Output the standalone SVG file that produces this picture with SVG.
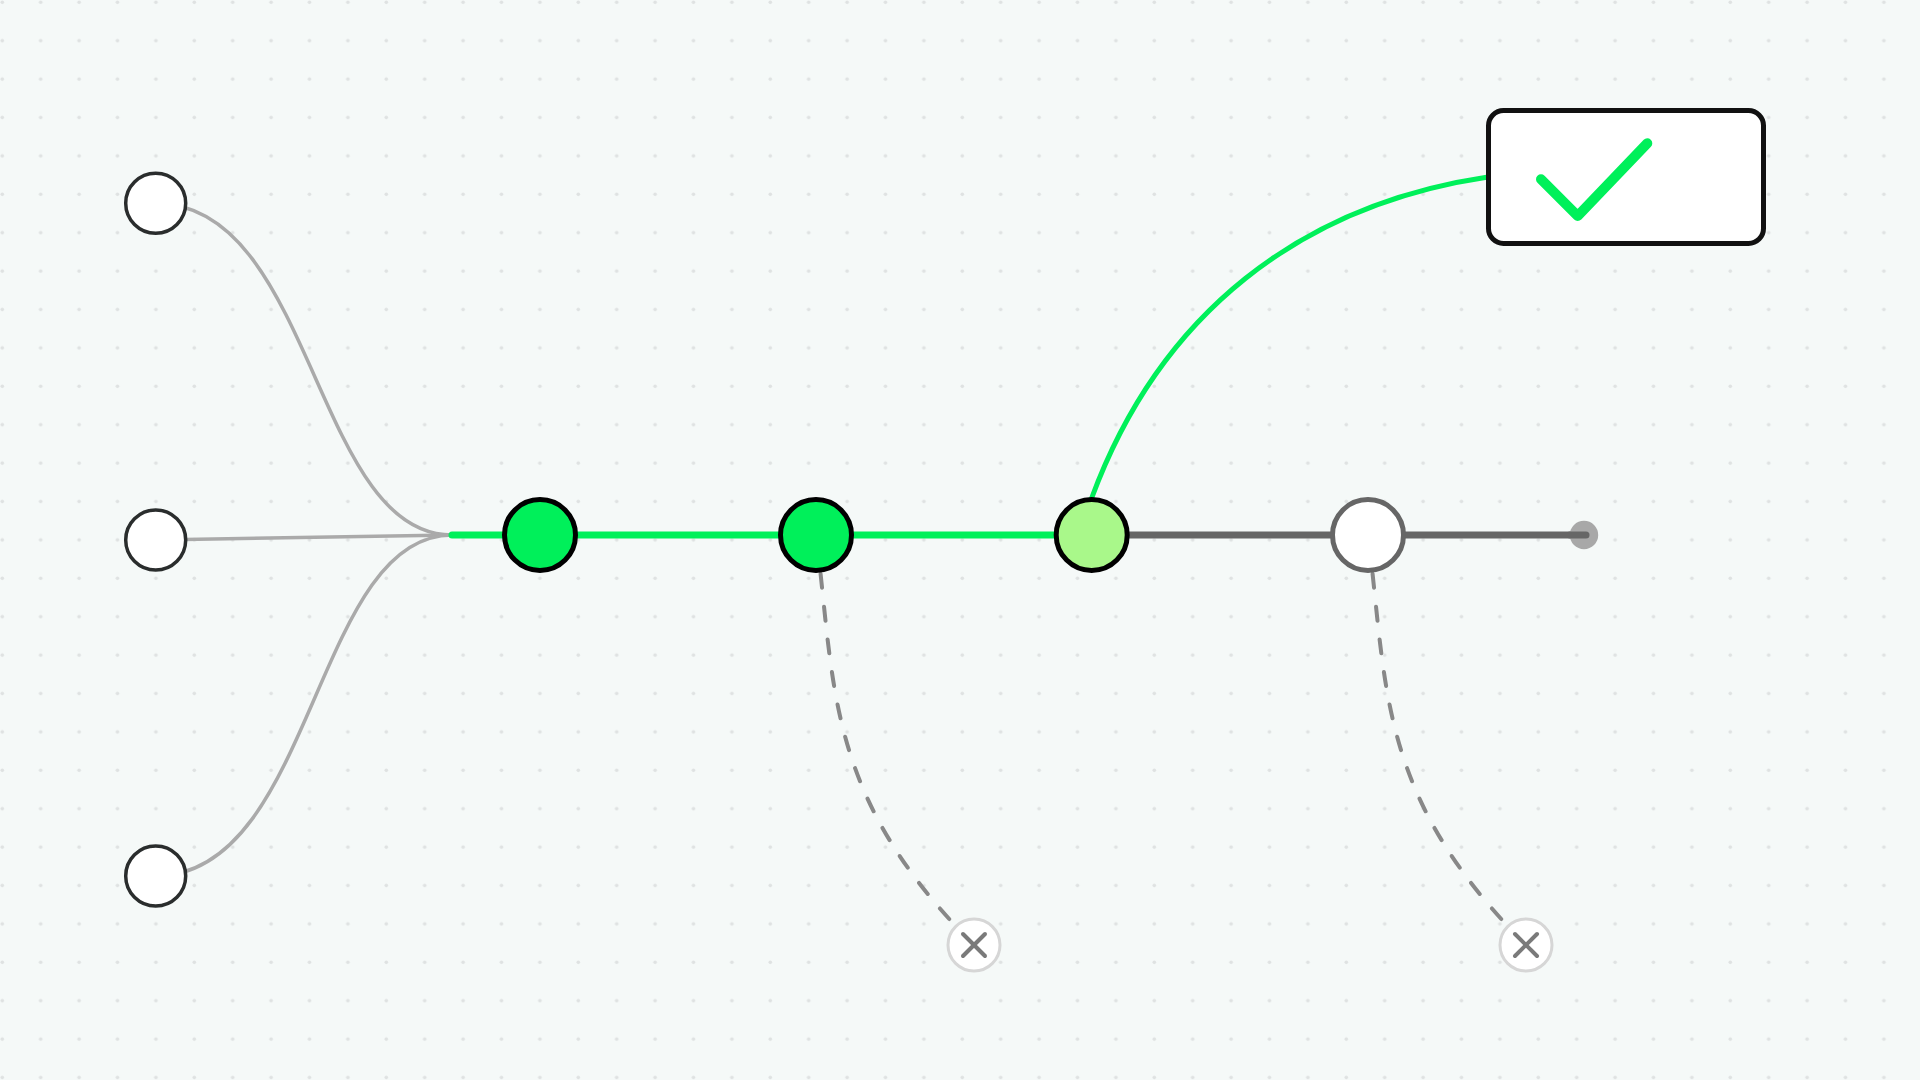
<svg xmlns="http://www.w3.org/2000/svg" width="1920" height="1080" viewBox="0 0 1920 1080">
  <defs>
    <pattern id="dots" width="38.4" height="38.4" patternUnits="userSpaceOnUse">
      <circle cx="2.3" cy="2.3" r="1.8" fill="#dfe2e2"/>
    </pattern>
    <style>
      .in { fill: none; stroke: #aaaaaa; stroke-width: 3.5; stroke-linecap: round; }
      .green { fill: none; stroke: #00f05a; stroke-linecap: round; }
      .gray { fill: none; stroke: #666666; stroke-width: 7; stroke-linecap: round; }
      .dash { fill: none; stroke: #888888; stroke-width: 4; stroke-linecap: round; stroke-dasharray: 14 19; stroke-dashoffset: -6; }
      .src { fill: #ffffff; stroke: #2a2d2d; stroke-width: 3.5; }
      .main { stroke-width: 5; }
      .xnode { fill: #ffffff; stroke: #d6d6d6; stroke-width: 3; }
      .xmark { stroke: #7a7a7a; stroke-width: 4; stroke-linecap: round; }
    </style>
  </defs>
  <rect width="1920" height="1080" fill="#f5f9f8"/>
  <rect width="1920" height="1080" fill="url(#dots)"/>

  <g id="connectors">
    <path class="in" d="M155.7,203.3 C314,203.3 314,535 452,535"/>
    <path class="in" d="M155.7,540 L452,535"/>
    <path class="in" d="M155.7,876 C314,876 314,535 452,535"/>
    <path class="green" stroke-width="7" d="M452,535 L1091.7,535"/>
    <path class="gray" d="M1091.7,535 L1586,535"/>
    <path class="green" stroke-width="5" d="M1091.7,498 C1160,313 1301,204.75 1488,177"/>
    <path class="dash" d="M816,535 C835.5,685 824,795 974,945"/>
    <path class="dash" d="M1368,535 C1387.5,685 1376,795 1526,945"/>
  </g>

  <g id="src1"><circle class="src" cx="155.7" cy="203.3" r="30"/></g>
  <g id="src2"><circle class="src" cx="155.7" cy="540" r="30"/></g>
  <g id="src3"><circle class="src" cx="155.7" cy="876" r="30"/></g>

  <g id="step1"><circle class="main" cx="540" cy="535" r="35.5" fill="#00f05a" stroke="#000000"/></g>
  <g id="step2"><circle class="main" cx="816" cy="535" r="35.5" fill="#00f05a" stroke="#000000"/></g>
  <g id="step3"><circle class="main" cx="1091.7" cy="535" r="35.5" fill="#a9f88a" stroke="#000000"/></g>
  <g id="step4"><circle class="main" cx="1368" cy="535" r="35.5" fill="#ffffff" stroke="#666666"/></g>
  <g id="end"><circle cx="1584" cy="535" r="14.2" fill="#a8a8a8"/><line x1="1570" y1="535" x2="1586" y2="535" stroke="#666666" stroke-width="7" stroke-linecap="round"/></g>

  <g id="fail1">
    <circle class="xnode" cx="974" cy="945" r="26"/>
    <line class="xmark" x1="963" y1="934" x2="985" y2="956"/>
    <line class="xmark" x1="985" y1="934" x2="963" y2="956"/>
  </g>
  <g id="fail2">
    <circle class="xnode" cx="1526" cy="945" r="26"/>
    <line class="xmark" x1="1515" y1="934" x2="1537" y2="956"/>
    <line class="xmark" x1="1537" y1="934" x2="1515" y2="956"/>
  </g>

  <g id="result">
    <rect x="1488.5" y="110.5" width="275" height="133" rx="15" fill="#ffffff" stroke="#111111" stroke-width="5"/>
    <polyline points="1541,179.3 1577.7,216 1647.3,143.3" fill="none" stroke="#00f05a" stroke-width="10" stroke-linecap="round" stroke-linejoin="round"/>
  </g>
</svg>
